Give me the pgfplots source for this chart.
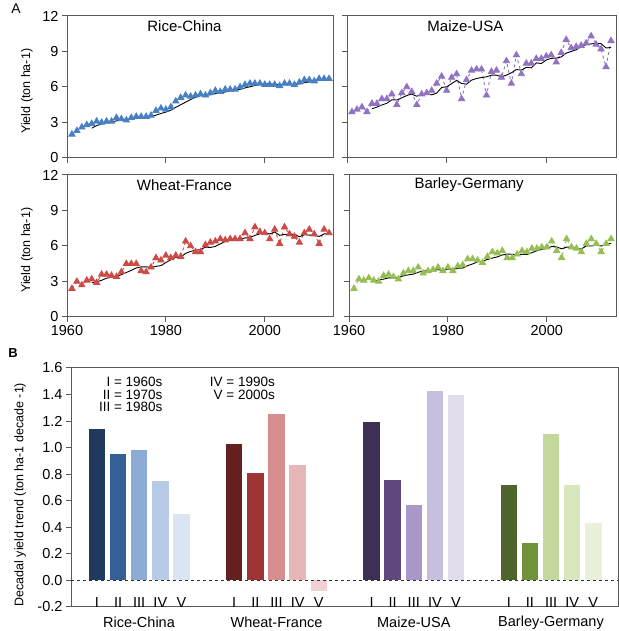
\documentclass[border=0pt]{standalone}
\usepackage{fontspec}
\setmainfont{Liberation Sans}
\usepackage{pgfplots}
\usepackage{pgfplotstable}
\pgfplotsset{compat=1.18}

\definecolor{riceC}{RGB}{72,128,196}
\definecolor{maizeC}{RGB}{145,115,195}
\definecolor{wheatC}{RGB}{205,75,70}
\definecolor{barleyC}{RGB}{150,190,85}
\definecolor{framec}{RGB}{90,90,90}
% bar colours, one per decade
\definecolor{r1}{RGB}{31,58,94}\definecolor{r2}{RGB}{53,96,150}\definecolor{r3}{RGB}{140,172,214}\definecolor{r4}{RGB}{183,203,230}\definecolor{r5}{RGB}{218,229,243}
\definecolor{w1}{RGB}{102,32,32}\definecolor{w2}{RGB}{158,52,52}\definecolor{w3}{RGB}{214,142,142}\definecolor{w4}{RGB}{231,182,182}\definecolor{w5}{RGB}{242,207,212}
\definecolor{m1}{RGB}{62,48,84}\definecolor{m2}{RGB}{96,72,126}\definecolor{m3}{RGB}{170,152,200}\definecolor{m4}{RGB}{200,190,222}\definecolor{m5}{RGB}{226,221,237}
\definecolor{b1}{RGB}{78,100,42}\definecolor{b2}{RGB}{112,146,56}\definecolor{b3}{RGB}{195,216,156}\definecolor{b4}{RGB}{216,230,188}\definecolor{b5}{RGB}{233,241,218}

\newcommand\tickfont{\fontsize{14.5}{16}\selectfont}
\newcommand\titfont{\fontsize{15}{17}\selectfont}
\newcommand\labfont{\fontsize{12.5}{14}\selectfont}
\newcommand\keyfont{\fontsize{13.5}{14}\selectfont}

% year, yield, 5-yr running mean
\pgfplotstableread{
year yield avg
1961 2.0 nan
1962 2.3 nan
1963 2.6 nan
1964 2.8 nan
1965 2.9 2.52
1966 3.1 2.74
1967 3.0 2.88
1968 3.1 2.98
1969 3.1 3.04
1970 3.4 3.14
1971 3.3 3.18
1972 3.2 3.22
1973 3.4 3.28
1974 3.5 3.36
1975 3.5 3.38
1976 3.5 3.42
1977 3.6 3.50
1978 4.0 3.62
1979 4.2 3.76
1980 4.1 3.88
1981 4.3 4.04
1982 4.8 4.28
1983 5.1 4.50
1984 5.3 4.72
1985 5.2 4.94
1986 5.3 5.14
1987 5.4 5.26
1988 5.3 5.30
1989 5.5 5.34
1990 5.7 5.44
1991 5.6 5.50
1992 5.8 5.58
1993 5.8 5.68
1994 5.8 5.74
1995 6.0 5.80
1996 6.2 5.92
1997 6.3 6.02
1998 6.3 6.12
1999 6.3 6.22
2000 6.2 6.26
2001 6.2 6.26
2002 6.2 6.24
2003 6.1 6.20
2004 6.3 6.20
2005 6.3 6.22
2006 6.2 6.22
2007 6.4 6.26
2008 6.6 6.36
2009 6.6 6.42
2010 6.5 6.46
2011 6.7 6.56
2012 6.7 6.62
2013 6.7 6.64
}\rice

\pgfplotstableread{
year yield avg
1961 3.9 nan
1962 4.1 nan
1963 4.3 nan
1964 3.9 nan
1965 4.6 4.16
1966 4.6 4.30
1967 5.0 4.48
1968 5.0 4.62
1969 5.4 4.92
1970 4.5 4.90
1971 5.5 5.08
1972 6.0 5.28
1973 5.6 5.40
1974 4.5 5.22
1975 5.4 5.40
1976 5.5 5.40
1977 5.7 5.34
1978 6.3 5.48
1979 6.9 5.96
1980 5.7 6.02
1981 6.8 6.28
1982 7.1 6.56
1983 5.0 6.30
1984 6.6 6.24
1985 7.4 6.58
1986 7.5 6.72
1987 7.5 6.80
1988 5.3 6.86
1989 7.3 7.00
1990 7.4 7.00
1991 6.8 6.86
1992 8.2 7.00
1993 6.3 7.20
1994 8.7 7.48
1995 7.1 7.42
1996 8.0 7.66
1997 8.0 7.62
1998 8.4 8.04
1999 8.4 7.98
2000 8.6 8.28
2001 8.7 8.42
2002 8.1 8.44
2003 8.9 8.54
2004 10.0 8.86
2005 9.3 9.00
2006 9.4 9.14
2007 9.5 9.42
2008 9.7 9.58
2009 10.3 9.64
2010 9.6 9.70
2011 9.2 9.66
2012 7.7 9.30
2013 9.9 9.34
}\maize

\pgfplotstableread{
year yield avg
1961 2.4 nan
1962 3.0 nan
1963 2.7 nan
1964 3.1 nan
1965 3.2 2.88
1966 2.9 2.98
1967 3.6 3.10
1968 3.6 3.28
1969 3.5 3.36
1970 3.4 3.40
1971 3.8 3.58
1972 4.5 3.76
1973 4.5 3.94
1974 4.5 4.14
1975 3.9 4.24
1976 3.8 4.24
1977 4.2 4.18
1978 5.0 4.28
1979 4.8 4.34
1980 5.2 4.60
1981 5.0 4.84
1982 5.2 5.04
1983 5.1 5.06
1984 6.4 5.38
1985 6.0 5.54
1986 5.5 5.64
1987 5.5 5.70
1988 6.1 5.90
1989 6.3 5.88
1990 6.4 5.96
1991 6.6 6.18
1992 6.5 6.38
1993 6.6 6.48
1994 6.6 6.54
1995 6.6 6.58
1996 7.1 6.68
1997 6.6 6.70
1998 7.6 6.90
1999 7.2 7.02
2000 7.1 7.12
2001 6.6 7.02
2002 7.4 7.18
2003 6.2 6.90
2004 7.6 6.98
2005 7.0 6.96
2006 6.8 7.00
2007 6.3 6.78
2008 7.1 6.96
2009 7.4 6.92
2010 7.0 6.92
2011 6.2 6.80
2012 7.4 7.02
2013 7.1 7.02
}\wheat

\pgfplotstableread{
year yield avg
1961 2.4 nan
1962 3.2 nan
1963 3.1 nan
1964 3.3 nan
1965 3.1 3.02
1966 3.0 3.14
1967 3.5 3.20
1968 3.6 3.30
1969 3.4 3.32
1970 3.2 3.34
1971 3.7 3.48
1972 3.9 3.56
1973 3.9 3.62
1974 4.2 3.78
1975 3.7 3.88
1976 3.9 3.92
1977 4.0 3.94
1978 4.2 4.00
1979 3.9 3.94
1980 4.2 4.04
1981 3.9 4.04
1982 4.3 4.10
1983 4.4 4.14
1984 4.9 4.34
1985 4.9 4.48
1986 4.8 4.66
1987 4.6 4.72
1988 5.1 4.86
1989 5.5 4.98
1990 5.4 5.08
1991 5.6 5.24
1992 5.0 5.32
1993 5.0 5.30
1994 5.3 5.26
1995 5.6 5.30
1996 5.5 5.28
1997 5.8 5.44
1998 5.8 5.60
1999 5.9 5.72
2000 5.9 5.78
2001 6.4 5.96
2002 5.6 5.92
2003 5.0 5.76
2004 6.6 5.90
2005 5.9 5.90
2006 5.8 5.78
2007 5.5 5.76
2008 6.2 6.00
2009 6.6 6.00
2010 6.2 6.06
2011 5.5 6.00
2012 6.2 6.14
2013 6.6 6.22
}\barley

\pgfplotsset{
  panel/.style={
    scale only axis, height=142pt,
    xmin=1960, xmax=2014, ymin=0, ymax=12,
    xtick={1960,1980,2000}, ytick={0,3,6,9,12},
    tick align=outside, tick pos=left, major tick length=5pt,
    axis line style={framec, line width=1pt},
    tick style={framec, line width=1pt},
    ticklabel style={font=\tickfont},
    /pgf/number format/1000 sep={},
    /pgf/number format/assume math mode=true,
    ylabel style={font=\labfont, at={(axis description cs:-0.15,0.47)}, anchor=center},
  },
  yld/.style={color=#1, dashed, line width=0.9pt, mark=triangle*, mark size=3.5pt,
    mark options={solid, fill=#1}},
  avgline/.style={black, line width=0.9pt, no marks},
}

\begin{document}
\begin{tikzpicture}
\path[use as bounding box] (0,0) rectangle (618pt,631pt);

% ---- panel A ----
\begin{axis}[panel, at={(67pt,473pt)}, anchor=south west, width=267pt,
  xticklabels={}, ylabel={Yield (ton ha-1)}]
  \addplot[yld=riceC] table[x=year,y=yield] {\rice};
  \addplot[avgline] table[x=year,y=avg] {\rice};
  \node[font=\titfont] at (rel axis cs:0.44,0.93) {Rice-China};
\end{axis}

\begin{axis}[panel, at={(347pt,473pt)}, anchor=south west, width=269pt,
  xticklabels={}, yticklabels={}]
  \addplot[yld=maizeC] table[x=year,y=yield] {\maize};
  \addplot[avgline] table[x=year,y=avg] {\maize};
  \node[font=\titfont] at (rel axis cs:0.44,0.93) {Maize-USA};
\end{axis}

\begin{axis}[panel, at={(67pt,314pt)}, anchor=south west, width=267pt,
  ylabel={Yield (ton ha-1)}]
  \addplot[yld=wheatC] table[x=year,y=yield] {\wheat};
  \addplot[avgline] table[x=year,y=avg] {\wheat};
  \node[font=\titfont] at (rel axis cs:0.44,0.93) {Wheat-France};
\end{axis}

\begin{axis}[panel, at={(349pt,314pt)}, anchor=south west, width=267pt,
  yticklabels={}]
  \addplot[yld=barleyC] table[x=year,y=yield] {\barley};
  \addplot[avgline] table[x=year,y=avg] {\barley};
  \node[font=\titfont] at (rel axis cs:0.45,0.93) {Barley-Germany};
\end{axis}

% ---- panel B ----
\begin{axis}[scale only axis, at={(71pt,24pt)}, anchor=south west,
  width=547pt, height=239pt,
  xmin=-1.23, xmax=24.67, ymin=-0.2, ymax=1.6,
  ybar, bar width=0.78, bar shift=0pt,
  ytick={-0.2,0,0.2,0.4,0.6,0.8,1.0,1.2,1.4,1.6},
  yticklabel style={/pgf/number format/.cd, fixed, fixed zerofill, precision=1},
  xtick={0,1,2,3,4,6.5,7.5,8.5,9.5,10.5,13,14,15,16,17,19.5,20.5,21.5,22.5,23.5},
  xticklabels={I,II,III,IV,V,I,II,III,IV,V,I,II,III,IV,V,I,II,III,IV,V},
  xtick style={draw=none},
  xticklabel style={anchor=south, yshift=1pt},
  tick align=outside, ytick pos=left, major tick length=5pt,
  axis line style={framec, line width=1pt},
  ytick style={framec, line width=1pt},
  ticklabel style={font=\tickfont},
  /pgf/number format/assume math mode=true,
  ylabel={Decadal yield trend (ton ha-1 decade -1)},
  ylabel style={font=\labfont, at={(axis description cs:-0.093,0.47)}, anchor=center},
  clip=false]
  \addplot[fill=r1, draw=none] coordinates {(0,1.14)};
  \addplot[fill=r2, draw=none] coordinates {(1,0.95)};
  \addplot[fill=r3, draw=none] coordinates {(2,0.98)};
  \addplot[fill=r4, draw=none] coordinates {(3,0.75)};
  \addplot[fill=r5, draw=none] coordinates {(4,0.50)};
  \addplot[fill=w1, draw=none] coordinates {(6.5,1.03)};
  \addplot[fill=w2, draw=none] coordinates {(7.5,0.81)};
  \addplot[fill=w3, draw=none] coordinates {(8.5,1.25)};
  \addplot[fill=w4, draw=none] coordinates {(9.5,0.87)};
  \addplot[fill=w5, draw=none] coordinates {(10.5,-0.08)};
  \addplot[fill=m1, draw=none] coordinates {(13,1.19)};
  \addplot[fill=m2, draw=none] coordinates {(14,0.76)};
  \addplot[fill=m3, draw=none] coordinates {(15,0.57)};
  \addplot[fill=m4, draw=none] coordinates {(16,1.43)};
  \addplot[fill=m5, draw=none] coordinates {(17,1.40)};
  \addplot[fill=b1, draw=none] coordinates {(19.5,0.72)};
  \addplot[fill=b2, draw=none] coordinates {(20.5,0.28)};
  \addplot[fill=b3, draw=none] coordinates {(21.5,1.10)};
  \addplot[fill=b4, draw=none] coordinates {(22.5,0.72)};
  \addplot[fill=b5, draw=none] coordinates {(23.5,0.43)};
  \draw[black!80, dashed, line width=0.8pt] (axis cs:-1.23,0) -- (axis cs:24.67,0);
\end{axis}

% panel letters, decade key, group names
\node[font=\fontsize{14}{16}\selectfont] at (16pt,622pt) {A};
\node[font=\fontsize{13}{15}\selectfont\bfseries] at (13pt,278pt) {B};
\begin{scope}[every node/.style={font=\keyfont, inner sep=0pt, anchor=east}]
  \node at (162.7pt,248.8pt) {I = 1960s};
  \node at (162.7pt,236.3pt) {II = 1970s};
  \node at (162.7pt,223.8pt) {III = 1980s};
  \node at (275pt,248.8pt) {IV = 1990s};
  \node at (275pt,236.3pt) {V = 2000s};
\end{scope}
\begin{scope}[every node/.style={font=\tickfont}]
  \node at (139pt,8.3pt) {Rice-China};
  \node at (276.5pt,8.3pt) {Wheat-France};
  \node at (413.8pt,8.3pt) {Maize-USA};
  \node at (551pt,8.3pt) {Barley-Germany};
\end{scope}
\end{tikzpicture}
\end{document}
